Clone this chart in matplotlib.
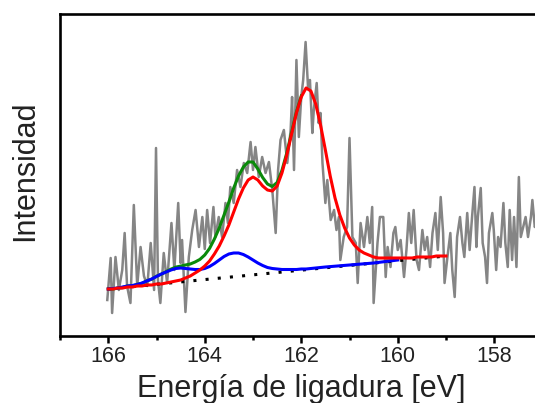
import matplotlib
matplotlib.use("Agg")
import matplotlib.pyplot as plt
from matplotlib.ticker import MultipleLocator

# --- 測定スペクトル (灰色のノイズ線) ---
energy_raw = [
    166.02, 165.95, 165.92, 165.85, 165.78, 165.71, 165.66, 165.61, 165.54, 165.47,
    165.40, 165.33, 165.26, 165.19, 165.12, 165.05, 165.01, 164.97, 164.92, 164.85,
    164.78, 164.69, 164.63, 164.55, 164.50, 164.47, 164.40, 164.33, 164.26, 164.19,
    164.12, 164.05, 164.00, 163.95, 163.89, 163.82, 163.78, 163.71, 163.64, 163.57,
    163.52, 163.47, 163.40, 163.33, 163.26, 163.19, 163.12, 163.05, 163.00, 162.95,
    162.88, 162.81, 162.74, 162.67, 162.60, 162.53, 162.48, 162.43, 162.36, 162.29,
    162.22, 162.19, 162.15, 162.10, 162.05, 162.00, 161.96, 161.91, 161.86, 161.82,
    161.77, 161.74, 161.68, 161.64, 161.60, 161.56, 161.50, 161.46, 161.39, 161.32,
    161.27, 161.22, 161.19, 161.12, 161.05, 161.00, 160.94, 160.87, 160.83, 160.77,
    160.70, 160.63, 160.58, 160.53, 160.50, 160.42, 160.37, 160.30, 160.25, 160.21,
    160.15, 160.09, 160.05, 160.00, 159.94, 159.87, 159.82, 159.77, 159.72, 159.67,
    159.61, 159.56, 159.49, 159.44, 159.39, 159.33, 159.28, 159.22, 159.17, 159.11,
    159.06, 159.03, 158.97, 158.91, 158.87, 158.82, 158.77, 158.71, 158.66, 158.62,
    158.56, 158.51, 158.46, 158.41, 158.37, 158.34, 158.28, 158.24, 158.19, 158.15,
    158.11, 158.04, 158.01, 157.96, 157.92, 157.87, 157.81, 157.77, 157.72, 157.68,
    157.63, 157.59, 157.54, 157.49, 157.45, 157.40, 157.35, 157.30, 157.24, 157.21,
    157.16, 157.10,
]
intensity_raw = [
    36, 78, 23, 79, 46, 66, 103, 50, 33, 131,
    50, 89, 60, 50, 93, 46, 188, 56, 33, 83,
    53, 113, 66, 133, 73, 96, 24, 79, 106, 126,
    89, 119, 87, 126, 93, 129, 99, 119, 99, 133,
    113, 149, 133, 166, 149, 173, 163, 194, 166, 189,
    159, 179, 163, 174, 146, 103, 166, 196, 206, 173,
    206, 239, 166, 276, 199, 239, 256, 294, 249, 256,
    203, 226, 253, 213, 223, 173, 133, 156, 116, 126,
    106, 119, 76, 99, 109, 198, 99, 93, 53, 113,
    89, 119, 93, 129, 33, 93, 119, 119, 59, 89,
    69, 103, 109, 86, 96, 59, 86, 123, 93, 126,
    76, 66, 106, 86, 99, 69, 103, 123, 86, 139,
    103, 53, 79, 103, 66, 39, 99, 119, 93, 79,
    123, 86, 119, 149, 89, 119, 148, 93, 79, 53,
    103, 123, 106, 66, 99, 89, 133, 93, 69, 126,
    76, 119, 69, 159, 99, 109, 119, 99, 119, 136,
    109, 115,
]

# --- フィット曲線 (0.1 eV 刻みで読み取り) ---
energy_fit = [
    166.0, 165.9, 165.8, 165.7, 165.6, 165.5, 165.4, 165.3, 165.2, 165.1,
    165.0, 164.9, 164.8, 164.7, 164.6, 164.5, 164.4, 164.3, 164.2, 164.1,
    164.0, 163.9, 163.8, 163.7, 163.6, 163.5, 163.4, 163.3, 163.2, 163.1,
    163.0, 162.9, 162.8, 162.7, 162.6, 162.5, 162.4, 162.3, 162.2, 162.1,
    162.0, 161.9, 161.8, 161.7, 161.6, 161.5, 161.4, 161.3, 161.2, 161.1,
    161.0, 160.9, 160.8, 160.7, 160.6, 160.5, 160.4, 160.3, 160.2, 160.1,
    160.0, 159.9, 159.8, 159.7, 159.6, 159.5, 159.4, 159.3, 159.2, 159.1,
    159.0,
]
fit_total = [  # 赤: 合計フィット
    47, 47, 48, 48, 49, 49, 50, 50, 51, 51,
    52, 52, 53, 54, 55, 56, 58, 60, 63, 66,
    70, 75, 82, 90, 100, 111, 124, 137, 148, 156,
    159, 156, 150, 146, 145, 150, 163, 181, 202, 223,
    239, 248, 245, 232, 211, 186, 160, 138, 121, 108,
    98, 91, 86, 83, 81, 79, 78, 78, 78, 78,
    78, 78, 78, 78, 79, 79, 79, 79, 80, 80,
    80,
]

energy_env = energy_fit[:41]
fit_envelope = [  # 緑: 包絡線
    47, 47, 48, 48.6, 50.1, 50.1, 51.7, 52.7, 55.2, 56.8,
    59.8, 61.8, 64.4, 66.9, 68.9, 69.9, 71, 72, 74, 76.6,
    81, 87.6, 97, 108, 121, 134, 148, 160, 169, 174,
    174, 167, 158.5, 152, 149.5, 153.5, 165.6, 183, 203.6, 224,
    240,
]

energy_minor = energy_fit[:42] + [161.5, 161.0, 160.5, 160.0]
fit_minor = [  # 青: 副成分
    47, 47.5, 48, 49, 50, 50.5, 51.5, 53, 55, 57,
    59.5, 62, 64, 66, 67.5, 68, 67.5, 67, 66.5, 66.5,
    67.5, 69.5, 72.5, 76, 79.5, 82, 83, 83, 81.5, 79,
    76, 73, 70.5, 68.5, 67.5, 67, 66.5, 66.5, 66.5, 66.5,
    67, 67, 69, 71, 73, 76,
]

# --- バックグラウンド (点線) ---
energy_bg = [166.0, 159.0]
background = [47, 80]

plt.rcParams["font.family"] = ["Liberation Sans", "DejaVu Sans"]
TEXT_COLOR = "#222222"

fig = plt.figure(figsize=(5.35, 4.03), dpi=100)
ax = fig.add_axes([60 / 535, 67 / 403, 482.5 / 535, 322 / 403])

ax.plot(energy_raw, intensity_raw, color="#858585", lw=1.8, zorder=1)
ax.plot(energy_bg, background, color="black", lw=2.2, ls=(0, (1, 3)), zorder=2)
ax.plot(energy_env, fit_envelope, color="#0a8a0a", lw=2.2, zorder=3)
ax.plot(energy_minor, fit_minor, color="#0000ff", lw=2.2, zorder=4)
ax.plot(energy_fit, fit_total, color="#ff0000", lw=2.2, zorder=5)

ax.set_xlim(167, 157)
ax.set_ylim(0, 322)
ax.xaxis.set_major_locator(MultipleLocator(2))
ax.xaxis.set_minor_locator(MultipleLocator(1))
ax.set_yticks([])

for side in ("left", "top", "bottom", "right"):
    ax.spines[side].set_linewidth(1.9)
    ax.spines[side].set_color("black")

ax.tick_params(axis="x", which="major", direction="out", length=5, width=1.8,
               pad=2, labelsize=15.5, labelcolor=TEXT_COLOR)
ax.tick_params(axis="x", which="minor", direction="out", length=3, width=1.8)

ax.set_xlabel("Energía de ligadura [eV]", fontsize=22, color=TEXT_COLOR, labelpad=5)
ax.set_ylabel("Intensidad", fontsize=22, color=TEXT_COLOR)
ax.yaxis.set_label_coords(-0.042, 0.512)

fig.savefig("out.png", dpi=100)
